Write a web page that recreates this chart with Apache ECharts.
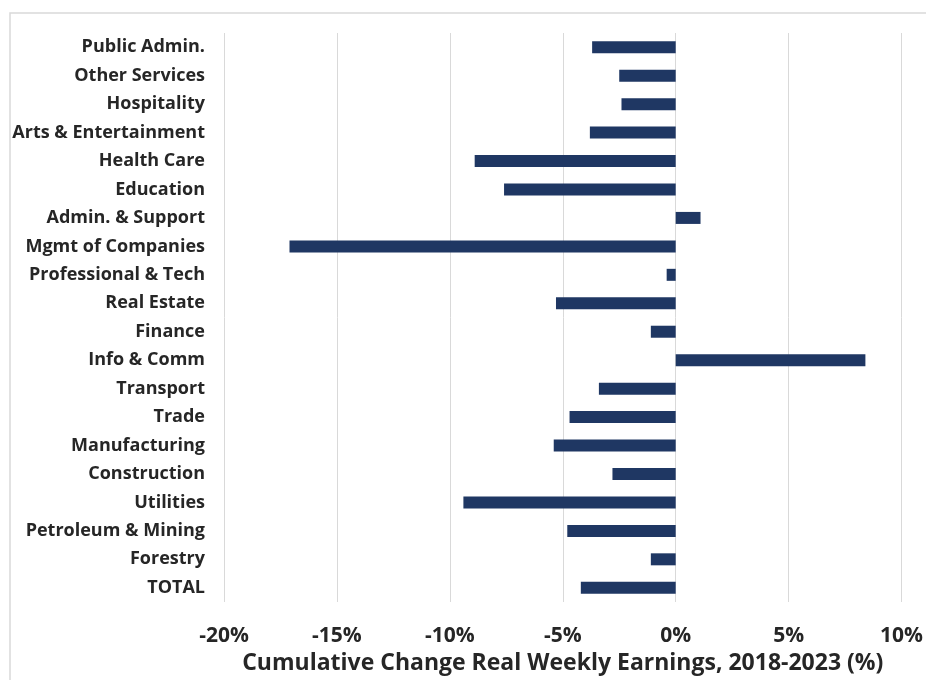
<!DOCTYPE html>
<html>
<head>
<meta charset="utf-8">
<script src="https://cdn.jsdelivr.net/npm/echarts@6/dist/echarts.min.js"></script>
<style>
  html, body { margin: 0; padding: 0; background: #ffffff; }
  #chart { width: 926px; height: 680px; }
</style>
</head>
<body>
<div id="chart"></div>
<script>
// Industries, listed top to bottom
const industries = [
  'Public Admin.', 'Other Services', 'Hospitality', 'Arts & Entertainment',
  'Health Care', 'Education', 'Admin. & Support', 'Mgmt of Companies',
  'Professional & Tech', 'Real Estate', 'Finance', 'Info & Comm',
  'Transport', 'Trade', 'Manufacturing', 'Construction', 'Utilities',
  'Petroleum & Mining', 'Forestry', 'TOTAL'
];

// Cumulative change in real weekly earnings, 2018-2023 (%)
const earningsChange = [
  -3.7, -2.5, -2.4, -3.8,
  -8.9, -7.6, 1.1, -17.1,
  -0.4, -5.3, -1.1, 8.4,
  -3.4, -4.7, -5.4, -2.8, -9.4,
  -4.8, -1.1, -4.2
];

// Horizontal axis range and step (%)
const axisMin = -20;
const axisMax = 10;
const axisStep = 5;

const chart = echarts.init(document.getElementById('chart'));

chart.setOption({
  animation: false,
  backgroundColor: '#ffffff',
  graphic: [{
    type: 'rect',
    silent: true,
    shape: { x: 10, y: 13, width: 940, height: 700 },
    style: { fill: 'none', stroke: '#d9d9d9', lineWidth: 1.5 }
  }],
  grid: { left: 224, right: 19, top: 33, bottom: 78 },
  xAxis: {
    type: 'value',
    min: axisMin,
    max: axisMax,
    interval: axisStep,
    axisLine: { show: false },
    axisTick: { show: false },
    splitLine: { show: true, lineStyle: { color: '#d9d9d9', width: 1 } },
    axisLabel: {
      formatter: '{value}%',
      margin: 24,
      fontFamily: 'Open Sans',
      fontWeight: 'bold',
      fontSize: 21,
      color: '#262626'
    },
    name: 'Cumulative Change Real Weekly Earnings, 2018-2023 (%)',
    nameLocation: 'middle',
    nameGap: 45,
    nameTextStyle: {
      fontFamily: 'Open Sans',
      fontWeight: 'bold',
      fontSize: 23,
      color: '#262626'
    }
  },
  yAxis: {
    type: 'category',
    data: industries,
    inverse: true,
    axisLine: { show: false },
    axisTick: { show: false },
    splitLine: { show: false },
    axisLabel: {
      margin: 19,
      fontFamily: 'Open Sans',
      fontWeight: 'bold',
      fontSize: 18,
      color: '#262626'
    }
  },
  series: [{
    type: 'bar',
    data: earningsChange,
    barWidth: 12,
    itemStyle: { color: '#1f3763' }
  }]
});
</script>
</body>
</html>
